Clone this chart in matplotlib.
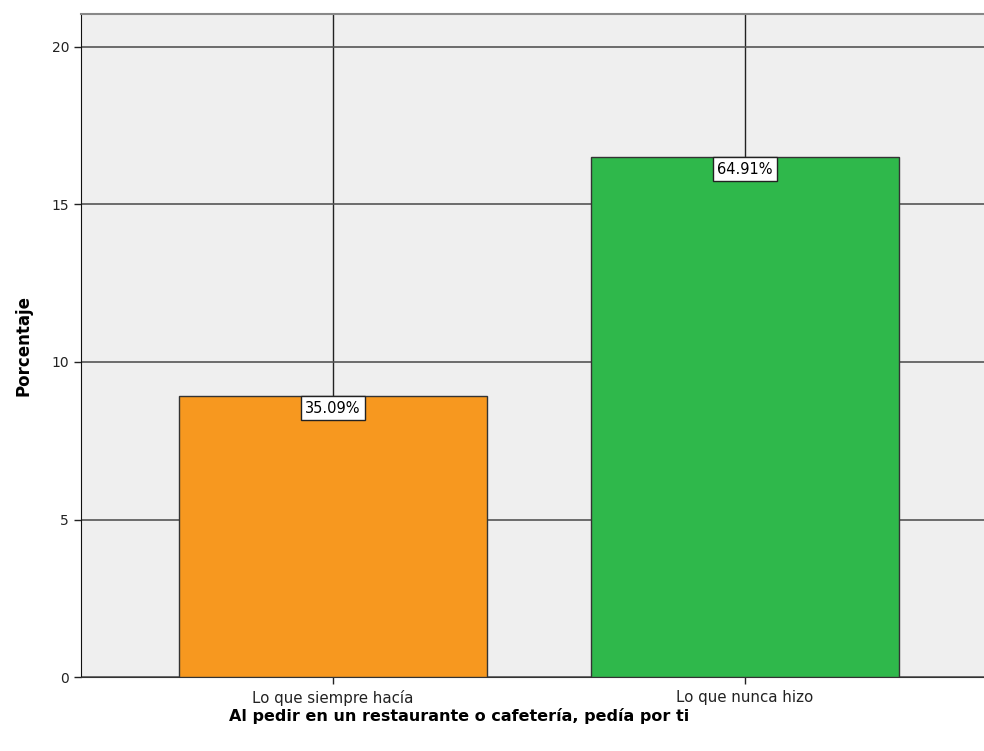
import numpy as np
import matplotlib.pyplot as plt

plt.rcParams['font.family'] = ['DejaVu Sans']

categorias = ['Lo que siempre hacía', 'Lo que nunca hizo']
valores = [8.92, 16.51]
etiquetas = ['35.09%', '64.91%']
colores = ['#F7981F', '#2FB84B']

fig = plt.figure(figsize=(9.84, 7.51), dpi=100)
ax = fig.add_axes([0.0823, 0.0985, 0.9309, 0.8822])
ax.set_facecolor('#EFEFEF')

x = np.arange(len(categorias))
ax.bar(x, valores, width=0.748, color=colores, edgecolor='#333333', linewidth=1, zorder=3)

ax.set_xlim(-0.612, 1.612)
ax.set_ylim(0, 21.03)
ax.set_yticks([0, 5, 10, 15, 20])
ax.set_xticks(x)
ax.set_xticklabels(categorias, fontsize=10.8)
ax.tick_params(axis='y', labelsize=10, length=5, width=1, colors='#222222')
ax.tick_params(axis='x', length=5, width=1, colors='#222222', pad=4)

ax.grid(axis='y', color='#555555', linewidth=1.2, zorder=1)
ax.grid(axis='x', color='#222222', linewidth=1, zorder=1)
ax.set_axisbelow(True)

for s in ['top', 'right']:
    ax.spines[s].set_color('#888888')
    ax.spines[s].set_linewidth(1.5)
ax.spines['left'].set_color('#111111')
ax.spines['bottom'].set_color('#333333')

# etiquetas con recuadro pegadas al borde superior de la barra
for xi, v, t in zip(x, valores, etiquetas):
    ax.text(xi, v - 0.15, t, ha='center', va='top', fontsize=10.5, zorder=5,
            bbox=dict(boxstyle='square,pad=0.3', fc='white', ec='#222222', lw=1))

ax.set_ylabel('Porcentaje', fontsize=12, fontweight='bold', labelpad=14)
ax.set_xlabel('Al pedir en un restaurante o cafetería, pedía por ti', fontsize=11.5,
              fontweight='bold', labelpad=2)
ax.xaxis.label.set_x((459 - 81) / 916)

plt.savefig('out.png', dpi=100)
